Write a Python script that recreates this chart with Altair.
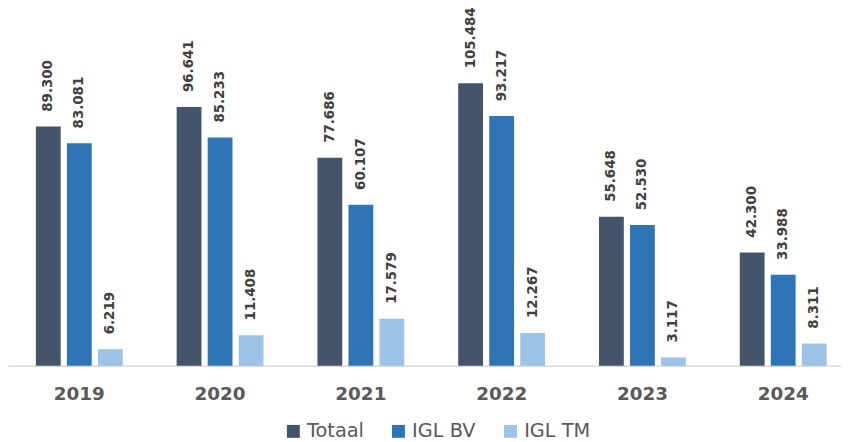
import altair as alt
import pandas as pd

years = ["2019", "2020", "2021", "2022", "2023", "2024"]
series = ["Totaal", "IGL BV", "IGL TM"]
totaal = [89.300, 96.641, 77.686, 105.484, 55.648, 42.300]
igl_bv = [83.081, 85.233, 60.107, 93.217, 52.530, 33.988]
igl_tm = [6.219, 11.408, 17.579, 12.267, 3.117, 8.311]
colors = ["#44546a", "#2e75b6", "#9dc3e6"]

rows = []
for i, y in enumerate(years):
    for s, vals in zip(series, [totaal, igl_bv, igl_tm]):
        rows.append({"Jaar": y, "Reeks": s, "Waarde": vals[i]})
df = pd.DataFrame(rows)

FONT = "DejaVu Sans"

x = alt.X("Jaar:N", sort=years,
          scale=alt.Scale(paddingInner=0.383, paddingOuter=0.15, align=0.66),
          axis=alt.Axis(title=None, labelAngle=0, labelFont=FONT, labelFontSize=18.5,
                        labelFontWeight="bold", labelColor="#595959", ticks=False,
                        domainColor="#d9d9d9", domainWidth=1.5, labelPadding=19))
xo = alt.XOffset("Reeks:N", sort=series, scale=alt.Scale(paddingInner=0.2))
y = alt.Y("Waarde:Q", scale=alt.Scale(domain=[0, 132.9], nice=False),
          axis=None)
color = alt.Color("Reeks:N", sort=series,
                  scale=alt.Scale(domain=series, range=colors),
                  legend=alt.Legend(title=None, orient="none", direction="horizontal",
                                    legendX=278, legendY=415,
                                    symbolType="square", symbolSize=169, symbolStrokeWidth=0,
                                    labelFont=FONT, labelFontSize=19.5, labelColor="#595959",
                                    columnPadding=25, labelOffset=4))

base = alt.Chart(df)
bars = base.mark_bar().encode(x=x, xOffset=xo, y=y, color=color)
labels = base.mark_text(angle=270, align="left", baseline="middle", dx=15,
                        font=FONT, fontSize=13.5, fontWeight="bold", color="#404040").encode(
    x=x, xOffset=xo, y=y, text=alt.Text("Waarde:Q", format=".3f"))

chart = (bars + labels).properties(
    width=840, height=359,
    autosize=alt.AutoSizeParams(type="none"),
    padding={"left": 0, "right": 0, "top": 0, "bottom": 75},
).configure_view(stroke=None)

chart.save("out.html", embed_options={"renderer": "svg", "actions": False})
